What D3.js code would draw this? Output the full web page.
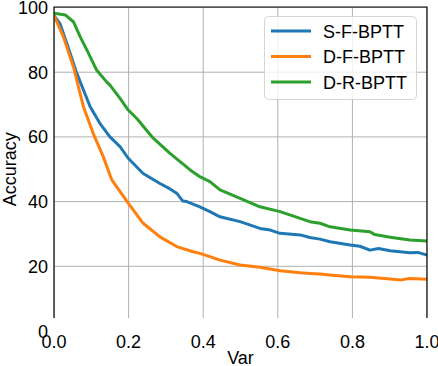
<!DOCTYPE html>
<html>
<head>
<meta charset="utf-8">
<script src="https://cdn.jsdelivr.net/npm/d3@7"></script>
<style>
    body { margin: 0; background: #fff; }
    text { font-family: "Liberation Sans", Arial, sans-serif; fill: #000; }
</style>
</head>
<body>
<svg id="chart" width="438" height="366"></svg>
<script>
// values
const seriesNames = ["S-F-BPTT", "D-F-BPTT", "D-R-BPTT"];
const seriesColors = ["#1f77b4", "#ff7f0e", "#2ca02c"];

const sfBptt = [
    [0, 97.5], [0.016, 95], [0.034, 89], [0.061, 79.7], [0.079, 74.5], [0.097, 69.3],
    [0.123, 64.2], [0.15, 60], [0.177, 57], [0.199, 53.4], [0.239, 48.7], [0.284, 45.6],
    [0.31, 44], [0.329, 42.6], [0.345, 40.2], [0.356, 40], [0.391, 38.4], [0.418, 36.9],
    [0.445, 35.3], [0.499, 33.8], [0.552, 31.7], [0.58, 31.2], [0.606, 30.2], [0.66, 29.7],
    [0.686, 28.9], [0.713, 28.4], [0.74, 27.6], [0.794, 26.6], [0.82, 26.2], [0.847, 25],
    [0.87, 25.5], [0.901, 24.8], [0.954, 24.2], [0.975, 24.3], [1.0, 23.5]
];
const dfBptt = [
    [0, 97.5], [0.025, 91], [0.052, 81.7], [0.079, 69.3], [0.105, 61.1], [0.132, 53.9],
    [0.15, 48.2], [0.155, 46.7], [0.199, 39.5], [0.239, 33.3], [0.284, 29.1], [0.329, 26.1],
    [0.373, 24.5], [0.391, 24], [0.418, 23], [0.445, 21.9], [0.499, 20.4], [0.552, 19.7],
    [0.606, 18.6], [0.66, 18], [0.686, 17.8], [0.713, 17.6], [0.74, 17.3], [0.794, 16.8],
    [0.847, 16.6], [0.901, 16.1], [0.93, 15.8], [0.954, 16.2], [1.0, 16]
];
const drBptt = [
    [0, 98.2], [0.03, 97.7], [0.052, 95.6], [0.07, 91], [0.088, 86.9], [0.114, 80.7],
    [0.141, 77], [0.15, 76], [0.177, 71.9], [0.199, 68.3], [0.222, 65.7], [0.266, 59.6],
    [0.311, 54.9], [0.365, 49.8], [0.391, 47.7], [0.418, 46.2], [0.445, 43.6], [0.499, 41],
    [0.552, 38.4], [0.606, 36.9], [0.66, 34.8], [0.686, 33.8], [0.713, 33.3], [0.74, 32.2],
    [0.794, 31.2], [0.847, 30.7], [0.86, 29.8], [0.901, 29], [0.954, 28.1], [1.0, 27.8]
];
const seriesData = [sfBptt, dfBptt, drBptt];

const xTicks = [0, 0.2, 0.4, 0.6, 0.8, 1.0];
const yTicks = [0, 20, 40, 60, 80, 100];

// layout
const plotLeft = 54, plotRight = 427, plotTop = 7, plotBottom = 318;

const svg = d3.select("#chart");

const xScale = d3.scaleLinear().domain([0, 1]).range([plotLeft, plotRight]);
const yScale = d3.scaleLinear().domain([0, 100]).range([331, 7.5]);

svg.append("clipPath").attr("id", "plotClip")
    .append("rect")
    .attr("x", plotLeft).attr("y", plotTop)
    .attr("width", plotRight - plotLeft).attr("height", plotBottom - plotTop);

// grid
const grid = svg.append("g").attr("clip-path", "url(#plotClip)");
grid.selectAll(".vgrid")
    .data(xTicks)
    .join("line")
    .attr("x1", d => xScale(d)).attr("x2", d => xScale(d))
    .attr("y1", plotTop).attr("y2", plotBottom)
    .attr("stroke", "#b0b0b0").attr("stroke-width", 1);
grid.selectAll(".hgrid")
    .data(yTicks)
    .join("line")
    .attr("x1", plotLeft).attr("x2", plotRight)
    .attr("y1", d => yScale(d)).attr("y2", d => yScale(d))
    .attr("stroke", "#b0b0b0").attr("stroke-width", 1);

// lines
const line = d3.line()
    .x(d => xScale(d[0]))
    .y(d => yScale(d[1]));

svg.append("g").attr("clip-path", "url(#plotClip)")
    .selectAll("path")
    .data(seriesData)
    .join("path")
    .attr("d", line)
    .attr("fill", "none")
    .attr("stroke", (d, i) => seriesColors[i])
    .attr("stroke-width", 3)
    .attr("stroke-linejoin", "round");

// spines (bottom edge is cut off in the reference)
svg.append("path")
    .attr("d", `M${plotLeft},${plotBottom}V${plotTop}H${plotRight}V${plotBottom}`)
    .attr("fill", "none")
    .attr("stroke", "#000")
    .attr("stroke-width", 1.2);

// tick labels
svg.selectAll(".ylab")
    .data(yTicks)
    .join("text")
    .attr("x", 48)
    .attr("y", d => yScale(d) + 6.5)
    .attr("text-anchor", "end")
    .attr("font-size", 18)
    .text(d => d);

svg.selectAll(".xlab")
    .data(xTicks)
    .join("text")
    .attr("x", d => xScale(d))
    .attr("y", 348)
    .attr("text-anchor", "middle")
    .attr("font-size", 18)
    .text(d => d.toFixed(1));

svg.append("text")
    .attr("x", xScale(0.5))
    .attr("y", 364)
    .attr("text-anchor", "middle")
    .attr("font-size", 18)
    .text("Var");

svg.append("text")
    .attr("transform", `translate(16,${yScale(50)}) rotate(-90)`)
    .attr("text-anchor", "middle")
    .attr("font-size", 18)
    .text("Accuracy");

// legend
const legend = svg.append("g");
legend.append("rect")
    .attr("x", 264.5).attr("y", 16.5)
    .attr("width", 152).attr("height", 83)
    .attr("rx", 4)
    .attr("fill", "#fff").attr("fill-opacity", 0.8)
    .attr("stroke", "#d6d6d6");

const rows = legend.selectAll(".row")
    .data(seriesNames)
    .join("g")
    .attr("transform", (d, i) => `translate(0,${31 + i * 25.5})`);
rows.append("line")
    .attr("x1", 271).attr("x2", 311)
    .attr("stroke", (d, i) => seriesColors[i])
    .attr("stroke-width", 3);
rows.append("text")
    .attr("x", 323)
    .attr("y", 6.5)
    .attr("font-size", 18)
    .text(d => d);
</script>
</body>
</html>
